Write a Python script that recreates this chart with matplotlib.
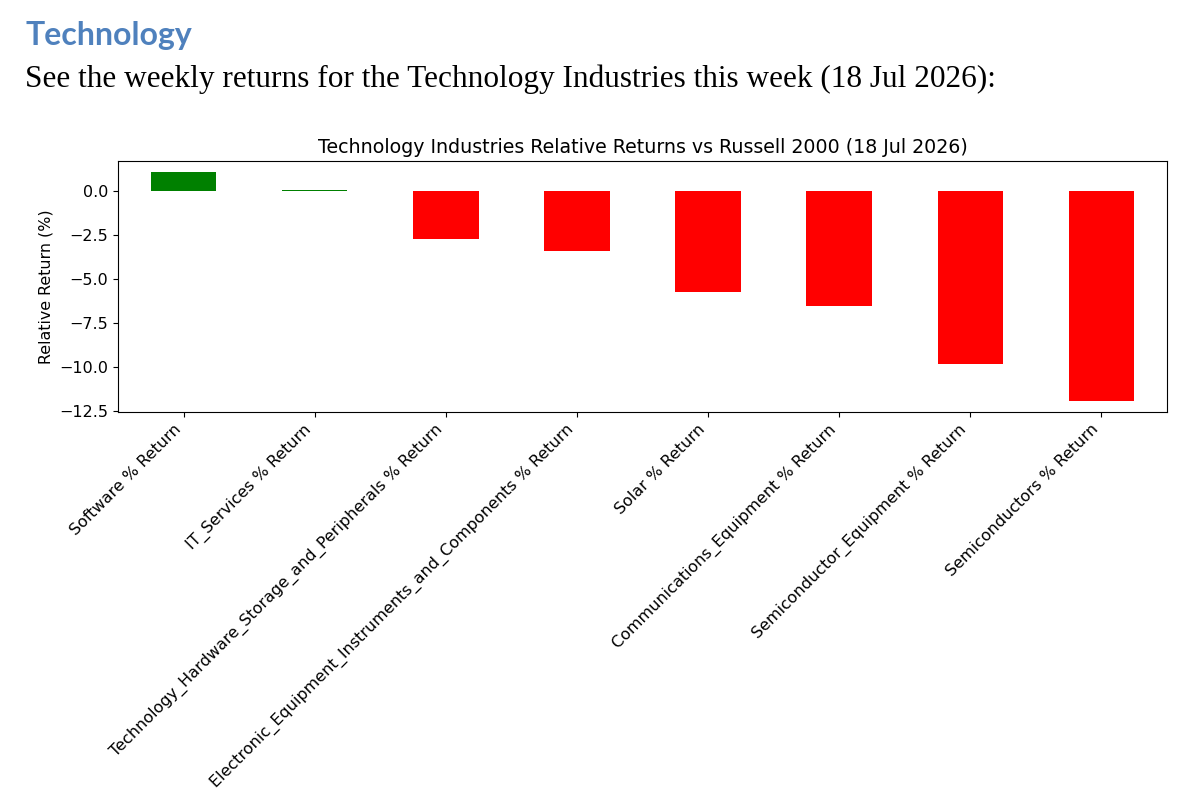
import matplotlib
matplotlib.use('Agg')
import matplotlib.pyplot as plt
from matplotlib.ticker import MultipleLocator
import pandas as pd

plt.rcParams['font.family'] = 'DejaVu Sans'

# weekly relative returns vs Russell 2000
industries = ['Software % Return', 'IT_Services % Return',
              'Technology_Hardware_Storage_and_Peripherals % Return',
              'Electronic_Equipment_Instruments_and_Components % Return',
              'Solar % Return', 'Communications_Equipment % Return',
              'Semiconductor_Equipment % Return', 'Semiconductors % Return']
rel_returns = [1.05, 0.03, -2.71, -3.44, -5.73, -6.51, -9.81, -11.91]
week = '18 Jul 2026'

s = pd.Series(rel_returns, index=industries)
colors = ['green' if v > 0 else 'red' for v in s]

fig = plt.figure(figsize=(11.84, 7.94), dpi=100)

# document-style header above the chart
fig.text(25/1184, 1 - 45/794, 'Technology', fontsize=23, fontweight='bold',
         color='#4f81bd', family='Lato', va='baseline')
fig.text(25/1184, 1 - 87/794,
         f'See the weekly returns for the Technology Industries this week ({week}):',
         fontsize=22.5, family='Liberation Serif', va='baseline')

ax = fig.add_axes([118/1184, 1 - 412/794, (1167 - 118)/1184, (412 - 161)/794])
s.plot(kind='bar', ax=ax, color=colors)
ax.set_title(f'Technology Industries Relative Returns vs Russell 2000 ({week})', fontsize=13.7)
ax.set_ylabel('Relative Return (%)', fontsize=11.4)
ax.yaxis.set_major_locator(MultipleLocator(2.5))
ax.tick_params(labelsize=11.5)
plt.setp(ax.get_xticklabels(), rotation=45, ha='right')

plt.savefig('out.png', dpi=100)
